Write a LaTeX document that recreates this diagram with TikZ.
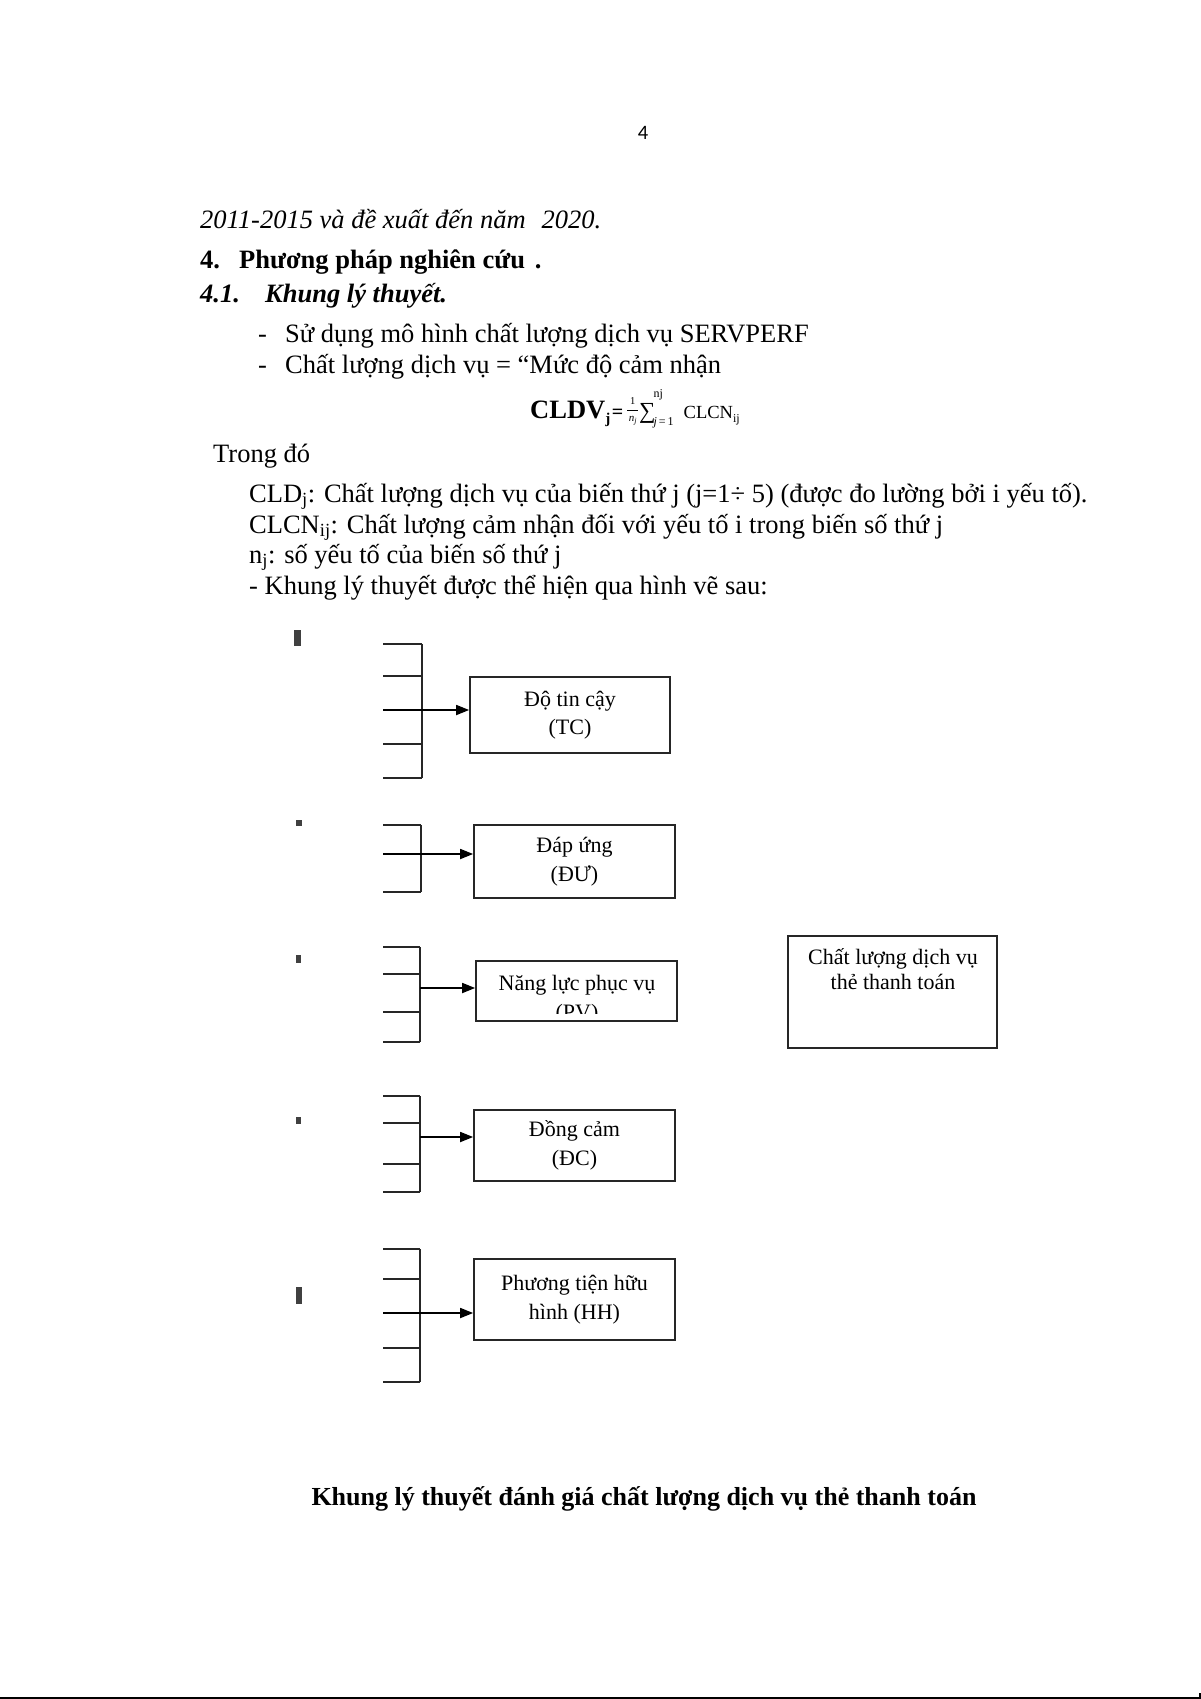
\documentclass[tikz,border=0pt]{standalone}
\usepackage{fontspec}
\setmainfont{Liberation Serif}
\newfontfamily\pagefnt{Carlito}
\usetikzlibrary{arrows.meta}
\newcommand\bodyfnt{\fontsize{26.5}{30}\selectfont}
\newcommand\capfnt{\fontsize{26}{30}\selectfont}
\newcommand\boxfnt{\fontsize{22}{28.5}\selectfont}
\newcommand\fsz[1]{\fontsize{#1}{#1}\selectfont}
\tikzset{
  box/.style={draw=black!85, line width=1.7pt, rectangle, inner sep=0pt, font=\boxfnt, align=center},
  boxtext/.style={inner sep=0pt, font=\boxfnt, anchor=base},
  tick/.style={draw=black!85, line width=1.7pt},
  conn/.style={draw=black, line width=1.7pt, -{Triangle[length=13pt,width=10pt]}},
  marker/.style={fill=black!75, draw=none},
  body/.style={anchor=base west, inner sep=0pt, font=\bodyfnt},
}
\begin{document}
\begin{tikzpicture}[x=1pt,y=-1pt]
\useasboundingbox (0,0) rectangle (1201,1699);
\fill[white] (0,0) rectangle (1201,1699);

% page number
\node[inner sep=0pt, anchor=base, font=\pagefnt\fontsize{20.5}{24}\selectfont] (pg) at (643,140) {4};

% body text
\node[body] (l1) at (200,229) {\itshape 2011-2015 và đề xuất đến năm\hspace{16pt}2020.};
\node[body] (l2a) at (200,268) {\bfseries 4.};
\node[body] (l2b) at (239,268) {\bfseries Phương pháp nghiên cứu\hspace{10pt}.};
\node[body] (l3a) at (200,302) {\bfseries\itshape 4.1.};
\node[body] (l3b) at (265,302) {\bfseries\itshape Khung lý thuyết.};
\node[body] (l4a) at (258,342) {-};
\node[body] (l4b) at (285,342) {Sử dụng mô hình chất lượng dịch vụ SERVPERF};
\node[body] (l5a) at (258,373) {-};
\node[body] (l5b) at (285,373) {Chất lượng dịch vụ = “Mức độ cảm nhận};

% formula (one node)
\node[body] (fml) at (530,418) {\textbf{CLDV\raisebox{-5pt}{\fsz{15}j}\hspace{1.5pt}{\fsz{20}=}}\hspace{4pt}\raisebox{-3pt}{\vbox{\hbox to 11pt{\hss\fsz{10.5}1\hss}\kern4.6pt\hrule height 0.8pt\kern5.5pt\hbox to 11pt{\hss\fsz{11}\textit{n}\raisebox{-2pt}{\fsz{8}\textit{j}}\hss}}}\hspace{1pt}{\fsz{23}∑}\hspace{-2pt}\makebox[0pt][l]{\raisebox{21pt}{\fsz{12}nj}}\raisebox{-7pt}{\fsz{12}\textit{j}\hspace{2pt}=\hspace{2pt}1}\hspace{10pt}{\fsz{18.5}CLCN}\raisebox{-4pt}{\fsz{12}ij}};

\node[body] (l7) at (213,462) {Trong đó};
\node[body] (l8) at (249,502) {CLD\textsubscript{j}: Chất lượng dịch vụ của biến thứ j (j=1÷ 5) (được đo lường bởi i yếu tố).};
\node[body] (l9) at (249,533) {CLCN\textsubscript{ij}: Chất lượng cảm nhận đối với yếu tố i trong biến số thứ j};
\node[body] (l10) at (249,563) {n\textsubscript{j}: số yếu tố của biến số thứ j};
\node[body] (l11) at (249,594) {- Khung lý thuyết được thể hiện qua hình vẽ sau:};

% markers
\fill[marker] (294,630) rectangle (301,646);
\fill[marker] (296,820) rectangle (302,826);
\fill[marker] (296,955) rectangle (301,963);
\fill[marker] (296,1117) rectangle (301,1124);
\fill[marker] (296,1287) rectangle (302,1304);

% boxes
\node[box, minimum width=200pt, minimum height=76pt] (tc) at (570,715) {Độ tin cậy\\(TC)};
\node[box, minimum width=201pt, minimum height=73pt] (du) at (574.5,861.5) {Đáp ứng\\(ĐƯ)};
\node[box, minimum width=201pt, minimum height=60pt] (pv) at (576.5,991) {};
\node[box, minimum width=209pt, minimum height=112pt] (cl) at (892.5,992) {};
\node[box, minimum width=201pt, minimum height=71pt] (dc) at (574.5,1145.5) {Đồng cảm\\(ĐC)};
\node[box, minimum width=201pt, minimum height=81pt] (hh) at (574.5,1299.5) {Phương tiện hữu\\hình (HH)};

\begin{scope}
\clip (477,962) rectangle (676,1013);
\node[boxtext] (pvt1) at (577,990) {Năng lực phục vụ};
\node[boxtext] (pvt2) at (577,1019) {(PV)};
\end{scope}
\node[boxtext] (clt1) at (893,964) {Chất lượng dịch vụ};
\node[boxtext] (clt2) at (893,989) {thẻ thanh toán};

% brackets and arrows
\draw[tick] (422,644) -- (422,778);
\foreach \y in {644,676,744,778} \draw[tick] (383,\y) -- (422,\y);
\coordinate (tca) at (383,710);
\draw[conn] (tca) -- (tca -| tc.west);

\draw[tick] (421,825) -- (421,892);
\foreach \y in {825,892} \draw[tick] (383,\y) -- (421,\y);
\coordinate (dua) at (383,854);
\draw[conn] (dua) -- (dua -| du.west);

\draw[tick] (420,947) -- (420,1042);
\foreach \y in {947,974,1012,1042} \draw[tick] (383,\y) -- (420,\y);
\coordinate (pva) at (420,988);
\draw[conn] (pva) -- (pva -| pv.west);

\draw[tick] (420,1096) -- (420,1192);
\foreach \y in {1096,1123,1164,1192} \draw[tick] (383,\y) -- (420,\y);
\coordinate (dca) at (420,1137);
\draw[conn] (dca) -- (dca -| dc.west);

\draw[tick] (420,1249) -- (420,1382);
\foreach \y in {1249,1279,1348,1382} \draw[tick] (383,\y) -- (420,\y);
\coordinate (hha) at (383,1313);
\draw[conn] (hha) -- (hha -| hh.west);

% caption
\node[inner sep=0pt, anchor=base, font=\capfnt\bfseries] (cap) at (644,1505) {Khung lý thuyết đánh giá chất lượng dịch vụ thẻ thanh toán};

% bottom rule
\fill[black] (0,1696.5) rectangle (1201,1699);
\fill[black] (1198.5,1693) rectangle (1201,1699);
\end{tikzpicture}
\end{document}
